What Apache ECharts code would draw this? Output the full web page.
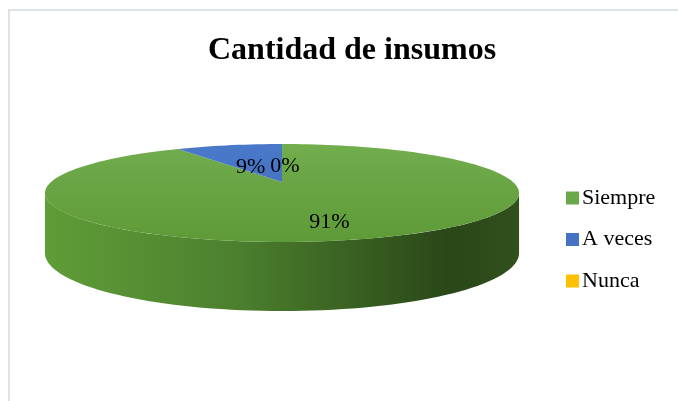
<!DOCTYPE html>
<html>
<head>
<meta charset="utf-8">
<script src="https://cdn.jsdelivr.net/npm/echarts@6/dist/echarts.min.js"></script>
<style>
html, body { margin: 0; padding: 0; background: #fff; }
#chart { width: 678px; height: 401px; }
</style>
</head>
<body>
<div id="chart"></div>
<script>
// data
const categories = ['Siempre', 'A veces', 'Nunca'];
const values = [91, 9, 0];

// colours: [top light, top dark] and side shading left -> right
const topColors = [['#72ad4e', '#5e9a37'], ['#4b79c9', '#3f6cbd'], ['#ffc61a', '#f2b600']];
const sideColors = [
  ['#5f9d38', '#4c802e', '#2a4718', '#30501c'],
  ['#3f6cbd', '#30559a', '#1f3766', '#223c6e'],
  ['#f0b400', '#c99600', '#8a6700', '#936e00']
];
const legendColors = ['#6aa84a', '#4472c4', '#ffc000'];

const total = values.reduce((a, b) => a + b, 0);

// tilted disc seen in perspective (pixels)
const cx = 282, topY = 182, botY = 240;
const A = 231, B = 46.5, Bbot = 55.1, persp = 0.2245;

// angle clockwise from 12 o'clock, r = fraction of radius
function proj(deg, r, yc, b) {
  const t = deg * Math.PI / 180;
  const s = Math.sin(t), c = Math.cos(t);
  const k = 1 + persp * r * c;
  return [cx + A * r * s / k, yc - b * r * c / k];
}

// where the rim is widest: the side's outline starts there
const edgeDeg = Math.acos(-persp) * 180 / Math.PI;

function arc(a0, a1, yc, b) {
  const pts = [];
  const n = Math.max(2, Math.ceil((a1 - a0) / 2));
  for (let k = 0; k <= n; k++) pts.push(proj(a0 + (a1 - a0) * k / n, 1, yc, b));
  return pts;
}

function sliceAngles(i) {
  let start = 0;
  for (let j = 0; j < i; j++) start += values[j] / total * 360;
  return [start, start + values[i] / total * 360];
}

function drawSlice(i) {
  const [a0, a1] = sliceAngles(i);
  const children = [];
  // front side of the disc
  const s0 = Math.max(a0, edgeDeg), s1 = Math.min(a1, 360 - edgeDeg);
  if (s1 > s0) {
    const top = arc(s0, s1, topY, B);
    const bottom = arc(s0, s1, botY, Bbot).reverse();
    const sc = sideColors[i];
    children.push({
      type: 'polygon', z2: 0,
      shape: { points: top.concat(bottom) },
      style: {
        fill: { type: 'linear', x: cx - 237, y: 0, x2: cx + 237, y2: 0, global: true,
          colorStops: [{ offset: 0, color: sc[0] }, { offset: 0.4, color: sc[1] },
                       { offset: 0.85, color: sc[2] }, { offset: 1, color: sc[3] }] }
      }
    });
  }
  // top face
  if (a1 > a0) {
    const tc = topColors[i];
    children.push({
      type: 'polygon', z2: 10,
      shape: { points: [[cx, topY]].concat(arc(a0, a1, topY, B)) },
      style: {
        fill: { type: 'linear', x: 0, y: 144, x2: 0, y2: 242, global: true,
          colorStops: [{ offset: 0, color: tc[0] }, { offset: 1, color: tc[1] }] }
      }
    });
  }
  // data label
  const mid = (a0 + a1) / 2;
  const p = proj(mid, 0.6, topY, B);
  children.push({
    type: 'text', z2: 100, x: p[0] + 3, y: p[1] + 9,
    style: {
      text: Math.round(values[i] / total * 100) + '%',
      fill: '#000', fontFamily: 'Liberation Serif', fontSize: 22,
      align: 'center', verticalAlign: 'middle'
    }
  });
  return { type: 'group', children };
}

const chart = echarts.init(document.getElementById('chart'));
chart.setOption({
  animation: false,
  title: {
    text: 'Cantidad de insumos',
    left: 208, top: 35, padding: 0,
    textStyle: { fontFamily: 'Liberation Serif', fontSize: 32, fontWeight: 'bold', color: '#000' }
  },
  legend: {
    data: categories,
    orient: 'vertical', left: 566, top: 187, padding: 0,
    icon: 'rect', itemWidth: 13, itemHeight: 13, itemGap: 19.5, itemStyle: { borderWidth: 0 },
    textStyle: { fontFamily: 'Liberation Serif', fontSize: 22, color: '#000', padding: [0, 0, 0, -2] }
  },
  graphic: [{
    type: 'rect', silent: true,
    shape: { x: 9, y: 10, width: 720, height: 420 },
    style: { fill: 'none', stroke: '#dde1ea', lineWidth: 2 }
  }],
  series: categories.map((name, i) => ({
    type: 'custom',
    name: name,
    coordinateSystem: 'none',
    itemStyle: { color: legendColors[i] },
    data: [values[i]],
    renderItem: () => drawSlice(i)
  }))
});
</script>
</body>
</html>
